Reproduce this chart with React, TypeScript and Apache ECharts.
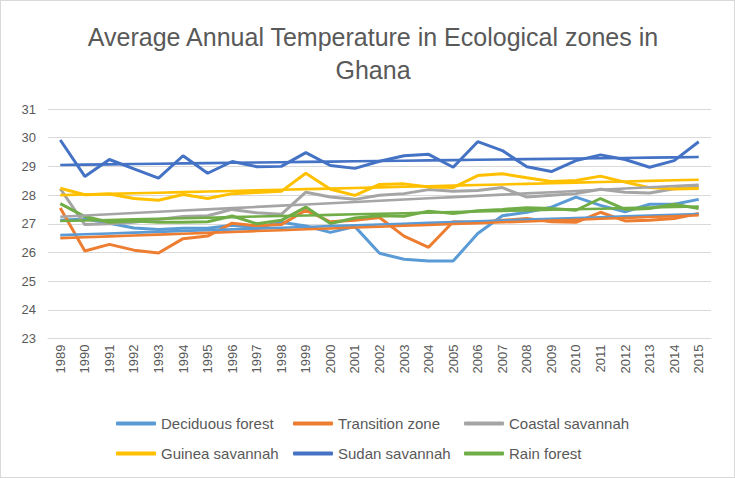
import React, { useEffect, useRef } from "react";
import * as echarts from "echarts";

const years = ["1989","1990","1991","1992","1993","1994","1995","1996","1997","1998","1999","2000","2001","2002","2003","2004","2005","2006","2007","2008","2009","2010","2011","2012","2013","2014","2015"];

const deciduous = [27.12, 27.17, 27.02, 26.85, 26.8, 26.84, 26.84, 26.95, 26.86, 27.05, 26.92, 26.7, 26.9, 25.97, 25.76, 25.7, 25.7, 26.66, 27.28, 27.4, 27.58, 27.93, 27.64, 27.42, 27.68, 27.68, 27.85];
const transition = [27.55, 26.05, 26.28, 26.08, 25.98, 26.48, 26.57, 27.02, 26.93, 26.97, 27.47, 27.07, 27.12, 27.22, 26.57, 26.18, 27.07, 27.04, 27.12, 27.18, 27.07, 27.05, 27.4, 27.1, 27.12, 27.18, 27.36];
const coastal = [28.22, 26.97, 27.0, 27.05, 27.15, 27.25, 27.28, 27.5, 27.38, 27.33, 28.1, 27.93, 27.85, 27.99, 28.05, 28.19, 28.13, 28.16, 28.26, 27.93, 27.99, 28.05, 28.2, 28.1, 28.07, 28.22, 28.28];
const guinea = [28.24, 28.01, 28.04, 27.88, 27.82, 28.02, 27.88, 28.05, 28.09, 28.13, 28.76, 28.2, 27.99, 28.37, 28.39, 28.28, 28.26, 28.68, 28.74, 28.6, 28.47, 28.51, 28.66, 28.45, 28.26, 28.21, 28.23];
const sudan = [29.92, 28.65, 29.24, 28.91, 28.59, 29.37, 28.76, 29.17, 28.99, 29.0, 29.48, 29.03, 28.93, 29.18, 29.37, 29.42, 28.97, 29.86, 29.55, 28.99, 28.82, 29.2, 29.4, 29.24, 28.97, 29.2, 29.86];
const rain = [27.7, 27.25, 27.05, 27.1, 27.05, 27.05, 27.07, 27.27, 27.0, 27.12, 27.58, 27.01, 27.2, 27.28, 27.26, 27.44, 27.36, 27.45, 27.5, 27.56, 27.53, 27.47, 27.88, 27.5, 27.53, 27.68, 27.53];

const seriesNames = ["Deciduous forest", "Transition zone", "Coastal savannah", "Guinea savannah", "Sudan savannah", "Rain forest"];
const seriesData = [deciduous, transition, coastal, guinea, sudan, rain];
const colors = ["#5B9BD5", "#ED7D31", "#A5A5A5", "#FFC000", "#4472C4", "#70AD47"];

const FONT = "'Liberation Sans', Arial, sans-serif";

function trend(values: number[]): number[] {
  const n = values.length;
  let sx = 0, sy = 0, sxy = 0, sxx = 0;
  values.forEach((v, i) => { sx += i; sy += v; sxy += i * v; sxx += i * i; });
  const b = (n * sxy - sx * sy) / (n * sxx - sx * sx);
  const a = (sy - b * sx) / n;
  return values.map((_, i) => +(a + b * i).toFixed(4));
}

export default function App() {
  const ref = useRef<HTMLDivElement>(null);
  useEffect(() => {
    if (!ref.current) return;
    const chart = echarts.init(ref.current, null, { renderer: "svg" });
    const legendPos = [
      { left: 110, top: 410 }, { left: 287, top: 410 }, { left: 458, top: 410 },
      { left: 110, top: 440 }, { left: 287, top: 440 }, { left: 458, top: 440 },
    ];
    const dataSeries = seriesNames.map((name, i) => ({
      name,
      type: "line",
      data: seriesData[i],
      showSymbol: false,
      symbol: "none",
      lineStyle: { color: colors[i], width: 3 },
      itemStyle: { color: colors[i] },
      z: 2,
    }));
    const trendSeries = seriesNames.map((name, i) => ({
      name: name + " trend",
      type: "line",
      data: trend(seriesData[i]),
      showSymbol: false,
      symbol: "none",
      lineStyle: { color: colors[i], width: 2.6 },
      itemStyle: { color: colors[i] },
      z: 3,
    }));
    chart.setOption({
      animation: false,
      backgroundColor: "#ffffff",
      title: {
        text: "Average Annual Temperature in Ecological zones in\nGhana",
        left: 367,
        top: 14,
        textAlign: "center",
        textStyle: { fontFamily: FONT, fontSize: 25, fontWeight: "normal", color: "#595959", lineHeight: 33 },
      },
      legend: seriesNames.map((name, i) => ({
        data: [name],
        left: legendPos[i].left,
        top: legendPos[i].top,
        icon: "roundRect",
        itemWidth: 40,
        itemHeight: 4,
        itemGap: 4,
        textStyle: { fontFamily: FONT, fontSize: 15, color: "#595959" },
      })),
      grid: { left: 47, right: 23, top: 108, bottom: 138.5, containLabel: false },
      xAxis: {
        type: "category",
        data: years,
        boundaryGap: true,
        axisLine: { show: true, lineStyle: { color: "#d9d9d9", width: 1 } },
        axisTick: { show: false },
        axisLabel: { rotate: 90, fontFamily: FONT, fontSize: 13, color: "#595959", margin: 6 },
      },
      yAxis: {
        type: "value",
        min: 23,
        max: 31,
        interval: 1,
        axisLine: { show: false },
        axisTick: { show: false },
        axisLabel: { fontFamily: FONT, fontSize: 13, color: "#595959", margin: 12 },
        splitLine: { lineStyle: { color: "#d9d9d9", width: 1 } },
      },
      series: [...dataSeries, ...trendSeries],
    });
    return () => chart.dispose();
  }, []);
  return (
    <div
      ref={ref}
      style={{
        position: "fixed",
        left: 0,
        top: 0,
        width: 735,
        height: 478,
        boxSizing: "border-box",
        border: "1px solid #d9d9d9",
        background: "#fff",
      }}
    />
  );
}
